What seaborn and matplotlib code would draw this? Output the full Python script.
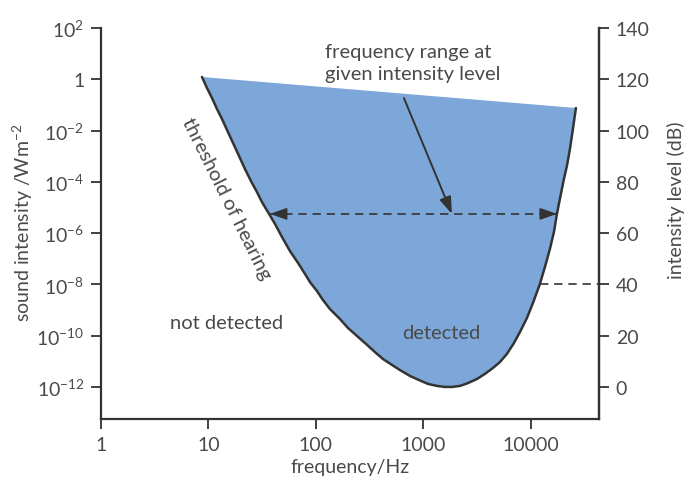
import matplotlib
matplotlib.use("Agg")
import matplotlib.pyplot as plt
import matplotlib.ticker as mticker
import seaborn as sns
import pandas as pd

# ---------------- data ----------------
# threshold of hearing: frequency (Hz) and intensity level (dB)
freq_hz = [8.70, 9.68, 10.78, 12.00, 13.36, 15.19, 16.90, 19.22, 21.85, 24.85,
           28.26, 31.46, 35.77, 41.56, 48.28, 57.31, 68.02, 79.02, 87.95, 102.2,
           116.2, 134.9, 167.2, 198.5, 240.6, 291.8, 353.8, 420.1, 509.3, 604.6,
           748.9, 908.1, 1101, 1336, 1585, 1841, 2185, 2594, 3146, 3734,
           4431, 5148, 5980, 6948, 7902, 9180, 10440, 12130, 13500, 15020,
           16370, 17460, 19010, 20280, 21620, 23070, 24590, 26220]
threshold_db = [120.9, 116.6, 112.7, 108.4, 104.5, 99.4, 95.2, 90.1, 85.0, 80.3,
                76.0, 72.1, 68.2, 63.6, 58.5, 53.0, 48.4, 44.1, 40.9, 37.4,
                33.9, 30.4, 26.5, 23.0, 19.9, 16.8, 13.6, 10.9, 8.6, 6.6,
                4.3, 2.7, 1.2, 0.4, 0.0, 0.0, 0.4, 1.5, 3.1, 5.1,
                7.4, 9.7, 12.9, 17.1, 21.4, 26.9, 32.7, 40.2, 46.8, 53.8,
                60.4, 67.5, 75.3, 81.1, 86.2, 92.8, 100.6, 108.8]

range_freq = [37.3, 17460]        # frequency range arrow ends (Hz)
range_db = 67.5                   # level of the range arrow (dB)
pointer_from = (658, 112.7)       # pointer arrow start (Hz, dB)
pointer_to = (1841, 67.5)         # pointer arrow tip (Hz, dB)
level40_freq = [12130, 43000]     # 40 dB dashed line
level40_db = 40

x_ticks = [1, 10, 100, 1000, 10000]
x_ticklabels = ["1", "10", "100", "1000", "10000"]
y_ticks = [1e2, 1, 1e-2, 1e-4, 1e-6, 1e-8, 1e-10, 1e-12]
y_ticklabels = ["10$^{2}$", "1", "10$^{-2}$", "10$^{-4}$", "10$^{-6}$",
                "10$^{-8}$", "10$^{-10}$", "10$^{-12}$"]
db_ticks = [0, 20, 40, 60, 80, 100, 120, 140]

df = pd.DataFrame({"freq": freq_hz, "level": threshold_db})

# ---------------- style ----------------
sns.set_theme(style="ticks")
plt.rcParams["font.family"] = ["Lato", "DejaVu Sans"]
plt.rcParams["font.weight"] = "normal"
plt.rcParams["mathtext.fontset"] = "custom"
plt.rcParams["mathtext.rm"] = "Lato"
plt.rcParams["mathtext.it"] = "Lato:italic"
plt.rcParams["mathtext.bf"] = "Lato:bold"
plt.rcParams["mathtext.default"] = "regular"

DARK = "#333333"
TXT = "#4a4a4a"
FILL = "#7ca7d8"
TICK_FS = 14
ANN_FS = 14.5
DASH = (0, (5, 3.5))

fig = plt.figure(figsize=(6.94, 4.81), dpi=100)
ax = fig.add_axes([101 / 694, 1 - 420 / 481, 498 / 694, 391 / 481])
ax.set_xscale("log")
ax.set_yscale("log")
ax.set_xlim(1, 43000)
ax.set_ylim(10 ** -13.25, 1e2)

# right axis in dB (drawing axes)
ax2 = ax.twinx()
ax2.set_ylim(-12.5, 140)

# filled detected region
ax2.fill(df["freq"], df["level"], color=FILL, lw=0, zorder=1)
sns.lineplot(data=df, x="freq", y="level", sort=False, ax=ax2,
             color=DARK, lw=1.8, zorder=3)

# frequency range dashed arrow
ax2.plot(range_freq, [range_db, range_db], ls=DASH, color=DARK, lw=1.2, zorder=4)
head = "-|>,head_length=0.85,head_width=0.3"
for tip, back in [(range_freq[0], range_freq[0] * 1.35),
                  (range_freq[1], range_freq[1] / 1.35)]:
    ax2.annotate("", xy=(tip, range_db), xytext=(back, range_db),
                 arrowprops=dict(arrowstyle=head, color=DARK, lw=1.2,
                                 shrinkA=0, shrinkB=0), zorder=5)

# pointer arrow
ax2.annotate("", xy=pointer_to, xytext=pointer_from,
             arrowprops=dict(arrowstyle=head, color=DARK, lw=1.4,
                             shrinkA=0, shrinkB=0), zorder=5)

# 40 dB dashed line
ax2.plot(level40_freq, [level40_db, level40_db], ls=DASH, color=DARK,
         lw=1.2, zorder=4, clip_on=False)

# texts (on the top axes so they sit above the fill)
ax2.text(0.4498, 0.9118, "frequency range at\ngiven intensity level",
         transform=ax2.transAxes, ha="left", va="center", fontsize=ANN_FS,
         color=TXT, linespacing=1.3, zorder=6)
ax2.text(0.253, 0.248, "not detected", transform=ax2.transAxes,
         ha="center", va="center", fontsize=ANN_FS, color=TXT, zorder=6)
ax2.text(0.683, 0.2225, "detected", transform=ax2.transAxes,
         ha="center", va="center", fontsize=ANN_FS, color=TXT, zorder=6)
ax2.text(0.251, 0.566, "threshold of hearing", transform=ax2.transAxes,
         ha="center", va="center", rotation=-63.5, rotation_mode="anchor",
         fontsize=ANN_FS, color=TXT, zorder=6)

# axes cosmetics
ax.set_xticks(x_ticks)
ax.set_xticklabels(x_ticklabels)
ax.set_yticks(y_ticks)
ax.set_yticklabels(y_ticklabels)
ax.xaxis.set_minor_locator(mticker.NullLocator())
ax.yaxis.set_minor_locator(mticker.NullLocator())
ax.tick_params(direction="out", length=7, width=1.3, color=DARK,
               labelsize=TICK_FS, labelcolor=TXT, pad=5)
for s in ["left", "bottom", "right"]:
    ax.spines[s].set_color(DARK)
    ax.spines[s].set_linewidth(1.6)
ax.spines["top"].set_visible(False)

ax.set_xlabel("frequency/Hz", fontsize=TICK_FS, color=TXT)
ax.xaxis.set_label_coords(0.5, -0.10)
ax.set_ylabel("sound intensity /Wm$^{-2}$", fontsize=TICK_FS, color=TXT)
ax.yaxis.set_label_coords(-0.1326, 0.504)

ax2.set_yticks(db_ticks)
ax2.yaxis.set_minor_locator(mticker.NullLocator())
ax2.tick_params(direction="out", length=7, width=1.3, color=DARK,
                labelsize=TICK_FS, labelcolor=TXT, pad=5)
ax2.spines["right"].set_color(DARK)
ax2.spines["right"].set_linewidth(1.6)
for s in ["left", "bottom", "top"]:
    ax2.spines[s].set_visible(False)
ax2.set_xlabel("")
ax2.set_ylabel("intensity level (dB)", fontsize=TICK_FS, color=TXT)
ax2.yaxis.set_label_coords(1.137, 0.563)

fig.savefig("out.png", dpi=100)
